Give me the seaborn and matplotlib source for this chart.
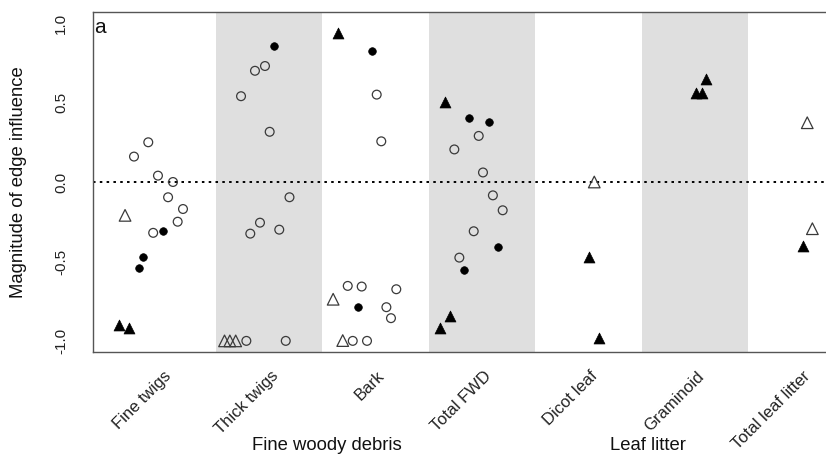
import numpy as np
import pandas as pd
import matplotlib
matplotlib.use("Agg")
import matplotlib.pyplot as plt
import seaborn as sns

categories = ["Fine twigs", "Thick twigs", "Bark", "Total FWD",
              "Dicot leaf", "Graminoid", "Total leaf litter"]
cat_pos = [1, 2, 3, 4, 5, 6, 7]
y_ticks = [-1.0, -0.5, 0.0, 0.5, 1.0]

# points: x = category position incl. jitter, y = magnitude
open_circle_x = [0.864, 0.73, 0.955, 1.096, 1.05, 1.19, 1.14, 0.91,
                 1.96, 1.866, 1.735, 2.004, 2.19, 1.913, 1.822, 2.094, 1.785, 2.155,
                 3.009, 3.052, 2.737, 2.868, 3.193, 3.10, 3.143, 2.784, 2.918,
                 3.967, 3.738, 4.007, 4.10, 4.192, 3.92, 3.785]
open_circle_y = [0.25, 0.16, 0.04, 0.0, -0.096, -0.17, -0.25, -0.32,
                 0.73, 0.70, 0.54, 0.316, -0.096, -0.256, -0.325, -0.30, -1.0, -1.0,
                 0.55, 0.256, -0.654, -0.658, -0.675, -0.788, -0.857, -1.0, -1.0,
                 0.29, 0.205, 0.06, -0.084, -0.178, -0.31, -0.476]

filled_circle_x = [1.0, 0.817, 0.774, 2.048, 2.962, 2.83, 3.876, 4.06, 4.15, 3.83]
filled_circle_y = [-0.31, -0.47, -0.54, 0.855, 0.826, -0.788, 0.40, 0.375, -0.41, -0.553]

open_tri_x = [0.646, 1.58, 1.63, 1.685, 2.60, 2.69, 5.052, 7.052, 7.10]
open_tri_y = [-0.21, -1.0, -1.0, -1.0, -0.738, -0.998, 0.0, 0.373, -0.294]

filled_tri_x = [0.592, 0.686, 2.648, 3.65, 3.697, 3.603, 5.005, 5.096,
                6.098, 6.004, 6.06, 7.015]
filled_tri_y = [-0.90, -0.92, 0.94, 0.505, -0.843, -0.916, -0.47, -0.983,
                0.65, 0.56, 0.56, -0.40]

group_labels = ["Fine woody debris", "Leaf litter"]
group_x = [2.54, 5.56]

sns.set_style("white")
plt.rcParams["font.family"] = ["Liberation Sans", "DejaVu Sans"]

fig = plt.figure(figsize=(8.26, 4.55), dpi=100)
ax = fig.add_axes([93 / 826, 1 - 352 / 455, 1 - 93 / 826, 340 / 455])

for i in cat_pos:
    if i % 2 == 0:
        ax.axvspan(i - 0.5, i + 0.5, color="#dfdfdf", lw=0, zorder=0)

ax.axhline(0, color="black", lw=1.4, ls=(0, (1.3, 2.2)), zorder=1)

edge = "#3a3a3a"
sns.scatterplot(x=open_circle_x, y=open_circle_y, marker="o", s=40,
                facecolor="none", edgecolor=edge, linewidth=0.9, ax=ax, zorder=3)
sns.scatterplot(x=filled_circle_x, y=filled_circle_y, marker="o", s=30,
                color="black", edgecolor="black", linewidth=0.5, ax=ax, zorder=3)
sns.scatterplot(x=open_tri_x, y=open_tri_y, marker="^", s=70,
                facecolor="none", edgecolor=edge, linewidth=0.9, ax=ax, zorder=3)
sns.scatterplot(x=filled_tri_x, y=filled_tri_y, marker="^", s=62,
                color="black", edgecolor="black", linewidth=0.5, ax=ax, zorder=3)

ax.set_xlim(0.345, 7.228)
ax.set_ylim(-1.07, 1.07)

for sp in ["left", "top", "bottom"]:
    ax.spines[sp].set_color("#555555")
    ax.spines[sp].set_linewidth(1.0)
ax.spines["right"].set_visible(False)

ax.set_yticks(y_ticks)
ax.set_yticklabels([f"{v:.1f}" for v in y_ticks], rotation=90, va="center",
                   fontsize=11, color="#222222")
ax.tick_params(axis="y", length=0, pad=18)

ax.set_xticks(cat_pos)
ax.set_xticklabels([])
ax.tick_params(axis="x", length=0)
for x, lab in zip(cat_pos, categories):
    ax.text(x + 0.01, -0.048, lab, transform=ax.get_xaxis_transform(),
            rotation=45, ha="right", va="top", rotation_mode="anchor",
            fontsize=12, color="#222222")

for x, lab in zip(group_x, group_labels):
    ax.text(x, -0.276, lab, transform=ax.get_xaxis_transform(),
            ha="center", va="center", fontsize=13.3, color="#111111")

ax.set_ylabel("Magnitude of edge influence", fontsize=13.3, color="#111111")
ax.yaxis.set_label_coords(-0.09, 0.5)

ax.text(0.002, 0.938, "a", transform=ax.transAxes, fontsize=15,
        ha="left", va="baseline", color="#111111")

fig.savefig("out.png", dpi=100)
